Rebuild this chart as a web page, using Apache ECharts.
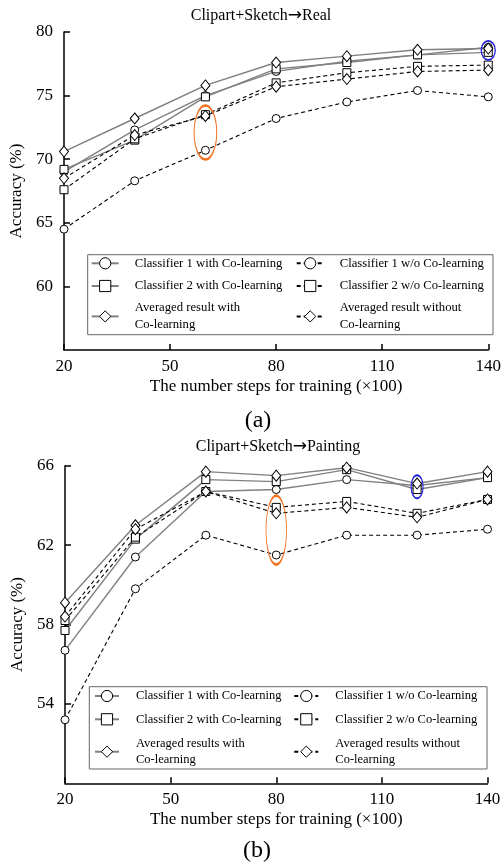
<!doctype html>
<html>
<head>
<meta charset="utf-8">
<title>Co-learning accuracy</title>
<style>
    html, body { margin: 0; padding: 0; background: #fff; }
    #main { width: 504px; height: 865px; }
</style>
</head>
<body>
<div id="main"></div>
<script src="https://cdn.jsdelivr.net/npm/echarts@6/dist/echarts.min.js"></script>
<script>
var steps = [20, 40, 60, 80, 100, 120, 140];
var xTicks = [20, 50, 80, 110, 140];

// (a) Clipart+Sketch -> Real
var realTicks = [60, 65, 70, 75, 80];
var realC1With = [69.0, 72.3, 75.0, 76.9, 77.7, 78.2, 78.8];
var realC2With = [69.2, 71.5, 74.9, 77.1, 77.6, 78.2, 78.4];
var realAvgWith = [70.6, 73.2, 75.8, 77.6, 78.1, 78.6, 78.7];
var realC1Without = [64.5, 68.3, 70.7, 73.2, 74.5, 75.4, 74.9];
var realC2Without = [67.6, 71.6, 73.5, 76.0, 76.8, 77.3, 77.4];
var realAvgWithout = [68.5, 71.9, 73.4, 75.7, 76.3, 76.9, 77.0];
var realNames = ['Classifier 1 with Co-learning', 'Classifier 1 w/o Co-learning',
    'Classifier 2 with Co-learning', 'Classifier 2 w/o Co-learning',
    'Averaged result with\nCo-learning', 'Averaged result without\nCo-learning'];

// (b) Clipart+Sketch -> Painting
var paintTicks = [54, 58, 62, 66];
var paintC1With = [56.7, 61.4, 64.7, 64.8, 65.3, 65.0, 65.4];
var paintC2With = [57.7, 62.3, 65.3, 65.2, 65.8, 64.8, 65.4];
var paintAvgWith = [59.1, 63.0, 65.7, 65.5, 65.9, 65.1, 65.7];
var paintC1Without = [53.2, 59.8, 62.5, 61.5, 62.5, 62.5, 62.8];
var paintC2Without = [58.2, 62.4, 64.7, 63.9, 64.2, 63.6, 64.3];
var paintAvgWithout = [58.4, 62.8, 64.7, 63.6, 63.9, 63.4, 64.3];
var paintNames = ['Classifier 1 with Co-learning', 'Classifier 1 w/o Co-learning',
    'Classifier 2 with Co-learning', 'Classifier 2 w/o Co-learning',
    'Averaged results with\nCo-learning', 'Averaged results without\nCo-learning'];

// highlighted points: [x, y] in data units, ellipse size in px
var realOrange = [60, 72.1];
var realBlue = [140, 78.56];
var paintOrange = [80, 62.76];
var paintBlue = [120, 64.94];

var FONT = 'Liberation Serif';
var ellipsePath = 'path://M0,1A1,1 0 1,1 2,1A1,1 0 1,1 0,1Z';

function pairs(values) {
    return steps.map(function (s, i) { return [s, values[i]]; });
}

function line(name, values, idx, solid, symbol, marks) {
    var s = {
        type: 'line',
        name: name,
        xAxisIndex: idx,
        yAxisIndex: idx,
        data: pairs(values),
        symbol: symbol,
        symbolSize: symbol === 'diamond' ? [9, 11] : 8,
        showAllSymbol: true,
        clip: false,
        lineStyle: solid ? { color: '#808080', width: 1.4, type: 'solid' }
                         : { color: '#000', width: 1.1, type: [4, 3] },
        itemStyle: { color: '#fff', borderColor: '#000', borderWidth: 1 },
        emphasis: { disabled: true }
    };
    if (marks) {
        s.markPoint = {
            silent: true,
            symbol: ellipsePath,
            label: { show: false },
            data: marks.map(function (m) {
                return {
                    coord: m.at,
                    symbolSize: m.size,
                    itemStyle: { color: 'rgba(0,0,0,0)', borderColor: m.color, borderWidth: 1.5 }
                };
            })
        };
    }
    return s;
}

function xAxis(idx) {
    return {
        type: 'value', gridIndex: idx, min: 20, max: 140,
        name: 'The number steps for training (×100)',
        nameLocation: 'middle', nameGap: 28,
        nameTextStyle: { fontFamily: FONT, fontSize: 17, color: '#000' },
        axisLine: { lineStyle: { color: '#000', width: 1.5 } },
        axisTick: { inside: true, length: 6, customValues: xTicks, lineStyle: { color: '#000', width: 1.5 } },
        axisLabel: { customValues: xTicks, margin: 8, fontFamily: FONT, fontSize: 17, color: '#000' },
        splitLine: { show: false }
    };
}

function yAxis(idx, min, max, interval, ticks) {
    return {
        type: 'value', gridIndex: idx, min: min, max: max, interval: interval,
        name: 'Accuracy (%)',
        nameLocation: 'middle', nameGap: 36,
        nameTextStyle: { fontFamily: FONT, fontSize: 17, color: '#000' },
        axisLine: { show: true, lineStyle: { color: '#000', width: 1.5 } },
        axisTick: { show: true, inside: true, length: 6, customValues: ticks, lineStyle: { color: '#000', width: 1.5 } },
        axisLabel: { customValues: ticks, margin: 11, fontFamily: FONT, fontSize: 17, color: '#000' },
        splitLine: { show: false }
    };
}

// one legend block; framed blocks draw the box round all three rows
function legend(names, o) {
    return {
        data: names,
        orient: 'horizontal',
        left: o.left, top: o.top,
        padding: o.padding,
        itemGap: o.gap,
        itemWidth: o.iconW,
        itemHeight: 14,
        borderColor: o.frame ? '#666' : 'transparent',
        borderWidth: o.frame ? 1 : 0,
        selectedMode: false,
        itemStyle: { color: '#fff', borderColor: '#000', borderWidth: 1 },
        textStyle: {
            fontFamily: FONT, fontSize: o.fontSize, color: '#000',
            lineHeight: o.lineHeight, width: o.textW, padding: [0, 0, 0, o.textPad]
        }
    };
}

function title(text, x, y) {
    var parts = text.split('→');
    return {
        type: 'text', x: x, y: y,
        style: {
            text: '{a|' + parts[0] + '}{b|→}{a|' + parts[1] + '}',
            textAlign: 'center', textVerticalAlign: 'middle',
            rich: {
                a: { fontFamily: FONT, fontSize: 16, color: '#000' },
                b: { fontFamily: 'DejaVu Sans', fontSize: 17, color: '#000' }
            }
        }
    };
}

var chart = echarts.init(document.getElementById('main'), null, { renderer: 'canvas' });

chart.setOption({
    animation: false,
    backgroundColor: '#fff',
    textStyle: { fontFamily: FONT },
    grid: [
        { left: 64, top: 32, width: 427, height: 318 },
        { left: 65, top: 465.7, width: 422.5, height: 317.6 }
    ],
    xAxis: [xAxis(0), xAxis(1)],
    yAxis: [yAxis(0, 55, 80, 5, realTicks), yAxis(1, 50, 66, 2, paintTicks)],
    legend: [
        legend(realNames.slice(0, 4), { left: 87.7, top: 254.7, padding: [1.6, 1, 41.7, 3], gap: 8.7,
            iconW: 27, textPad: 11, textW: 152.3, fontSize: 12.7, lineHeight: 14, frame: true }),
        legend(realNames.slice(4), { left: 87.7, top: 299.1, padding: [0, 1, 0, 3], gap: 8.7,
            iconW: 27, textPad: 11, textW: 152.3, fontSize: 12.7, lineHeight: 17.3 }),
        legend(paintNames.slice(0, 4), { left: 89.3, top: 686.7, padding: [2.3, 3.7, 42.7, 4.7], gap: 9.3,
            iconW: 24, textPad: 12, textW: 148, fontSize: 12.5, lineHeight: 14, frame: true }),
        legend(paintNames.slice(4), { left: 89.3, top: 735, padding: [0, 3.7, 0, 4.7], gap: 9.3,
            iconW: 24, textPad: 12, textW: 148, fontSize: 12.5, lineHeight: 16.7 })
    ],
    graphic: [
        title('Clipart+Sketch→Real', 261, 16),
        { type: 'text', x: 258, y: 421, style: { text: '(a)', font: '24px "' + FONT + '"', fill: '#000', textAlign: 'center', textVerticalAlign: 'middle' } },
        title('Clipart+Sketch→Painting', 278, 447),
        { type: 'text', x: 257, y: 851, style: { text: '(b)', font: '24px "' + FONT + '"', fill: '#000', textAlign: 'center', textVerticalAlign: 'middle' } }
    ],
    series: [
        line(realNames[0], realC1With, 0, true, 'circle'),
        line(realNames[2], realC2With, 0, true, 'rect'),
        line(realNames[4], realAvgWith, 0, true, 'diamond', [
            { at: realBlue, size: [14, 19], color: '#1f1fe0' }
        ]),
        line(realNames[1], realC1Without, 0, false, 'circle', [
            { at: realOrange, size: [22.6, 54], color: '#f07020' }
        ]),
        line(realNames[3], realC2Without, 0, false, 'rect'),
        line(realNames[5], realAvgWithout, 0, false, 'diamond'),

        line(paintNames[0], paintC1With, 1, true, 'circle'),
        line(paintNames[2], paintC2With, 1, true, 'rect'),
        line(paintNames[4], paintAvgWith, 1, true, 'diamond', [
            { at: paintBlue, size: [12, 23], color: '#1f1fe0' }
        ]),
        line(paintNames[1], paintC1Without, 1, false, 'circle', [
            { at: paintOrange, size: [20.5, 69], color: '#f07020' }
        ]),
        line(paintNames[3], paintC2Without, 1, false, 'rect'),
        line(paintNames[5], paintAvgWithout, 1, false, 'diamond')
    ]
});

window.onresize = chart.resize;
</script>
</body>
</html>
